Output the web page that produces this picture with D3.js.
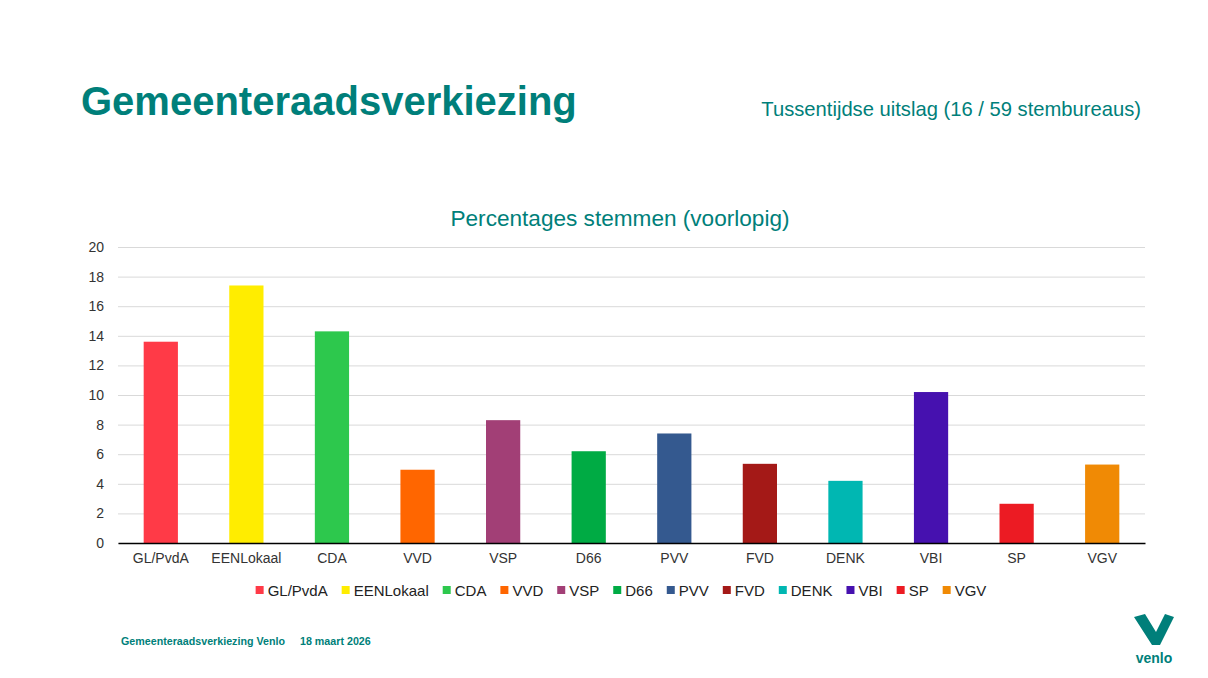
<!DOCTYPE html>
<html>
<head>
<meta charset="utf-8">
<script src="https://cdn.jsdelivr.net/npm/d3@7"></script>
<style>
  body { margin: 0; background: #fff; }
  text { font-family: "Liberation Sans", Arial, sans-serif; }
</style>
</head>
<body>
<div id="chart"></div>
<script>
// data
const parties = ["GL/PvdA", "EENLokaal", "CDA", "VVD", "VSP", "D66", "PVV", "FVD", "DENK", "VBI", "SP", "VGV"];
const percentages = [13.6, 17.4, 14.3, 4.95, 8.3, 6.2, 7.4, 5.35, 4.2, 10.2, 2.65, 5.3];
const partyColors = ["#ff3a47", "#ffed00", "#2dc84d", "#ff6600", "#a23f76", "#00ab44", "#34598f", "#a41917", "#00b7b2", "#4611af", "#ec1b23", "#f08a05"];
const yTicks = [0, 2, 4, 6, 8, 10, 12, 14, 16, 18, 20];

const teal = "#007f7a";
const W = 1208, H = 678;
const margin = { top: 247, right: 63, bottom: 135, left: 118 };
const width = W - margin.left - margin.right;
const height = H - margin.top - margin.bottom;

const svg = d3.select("#chart").append("svg")
    .attr("width", W)
    .attr("height", H);

// slide header
svg.append("text")
    .attr("x", 81).attr("y", 115)
    .attr("fill", teal)
    .attr("font-size", 40)
    .attr("font-weight", "bold")
    .text("Gemeenteraadsverkiezing");

svg.append("text")
    .attr("x", 1141).attr("y", 116)
    .attr("text-anchor", "end")
    .attr("fill", teal)
    .attr("font-size", 20.2)
    .text("Tussentijdse uitslag (16 / 59 stembureaus)");

// chart title
svg.append("text")
    .attr("x", 620).attr("y", 226)
    .attr("text-anchor", "middle")
    .attr("fill", teal)
    .attr("font-size", 22.6)
    .text("Percentages stemmen (voorlopig)");

const g = svg.append("g")
    .attr("transform", `translate(${margin.left},${margin.top})`);

const x = d3.scaleBand()
    .domain(parties)
    .range([0, width])
    .paddingInner(0.6)
    .paddingOuter(0.3);

const y = d3.scaleLinear()
    .domain([0, 20])
    .range([height, 0]);

// gridlines
g.append("g")
    .attr("class", "grid")
    .call(d3.axisLeft(y).tickValues(yTicks).tickSize(-width).tickFormat(""))
    .call(s => s.select(".domain").remove())
    .call(s => s.selectAll("line").attr("stroke", "#d9d9d9").attr("stroke-width", 1));

// y labels
g.append("g")
    .call(d3.axisLeft(y).tickValues(yTicks).tickSize(0).tickPadding(14))
    .call(s => s.select(".domain").remove())
    .call(s => s.selectAll("text")
        .attr("fill", "#333")
        .attr("font-size", 14)
        .style("font-family", "'Liberation Sans', Arial, sans-serif"));

// bars
g.selectAll(".bar")
    .data(parties)
    .join("rect")
    .attr("class", "bar")
    .attr("x", d => x(d))
    .attr("width", x.bandwidth())
    .attr("y", (d, i) => y(percentages[i]))
    .attr("height", (d, i) => y(0) - y(percentages[i]))
    .attr("fill", (d, i) => partyColors[i]);

// x axis
g.append("g")
    .attr("transform", `translate(0,${height})`)
    .call(d3.axisBottom(x).tickSize(0).tickPadding(10))
    .call(s => s.select(".domain").attr("stroke", "#000").attr("stroke-width", 1.5))
    .call(s => s.selectAll("text")
        .attr("fill", "#333")
        .attr("font-size", 14)
        .style("font-family", "'Liberation Sans', Arial, sans-serif"));

// legend, laid out by measured text widths and centred
const legend = svg.append("g").attr("transform", "translate(0,590)");
const items = legend.selectAll("g")
    .data(parties)
    .join("g");
items.append("rect")
    .attr("width", 8).attr("height", 8)
    .attr("y", -4)
    .attr("fill", (d, i) => partyColors[i]);
items.append("text")
    .attr("x", 12).attr("y", 5.5)
    .attr("font-size", 15)
    .attr("fill", "#222")
    .text(d => d);
let cursor = 0;
const offsets = [];
items.each(function () {
  offsets.push(cursor);
  cursor += 12 + this.querySelector("text").getComputedTextLength() + 14;
});
const start = 621 - (cursor - 14) / 2;
items.attr("transform", (d, i) => `translate(${start + offsets[i]},0)`);

// footer
svg.append("text")
    .attr("x", 121).attr("y", 645)
    .attr("fill", teal)
    .attr("font-size", 10.7)
    .attr("font-weight", "bold")
    .text("Gemeenteraadsverkiezing Venlo");
svg.append("text")
    .attr("x", 300).attr("y", 645)
    .attr("fill", teal)
    .attr("font-size", 10.7)
    .attr("font-weight", "bold")
    .text("18 maart 2026");

// venlo logo
const logo = svg.append("g").attr("transform", "translate(1154,0)");
logo.append("path")
    .attr("d", "M-20,617 L-9,614 L2,632 L11,614 L20,617 L6,645 L-2,645 Z")
    .attr("fill", teal);
logo.append("text")
    .attr("y", 663)
    .attr("text-anchor", "middle")
    .attr("fill", teal)
    .attr("font-size", 14)
    .attr("font-weight", "bold")
    .text("venlo");
</script>
</body>
</html>
